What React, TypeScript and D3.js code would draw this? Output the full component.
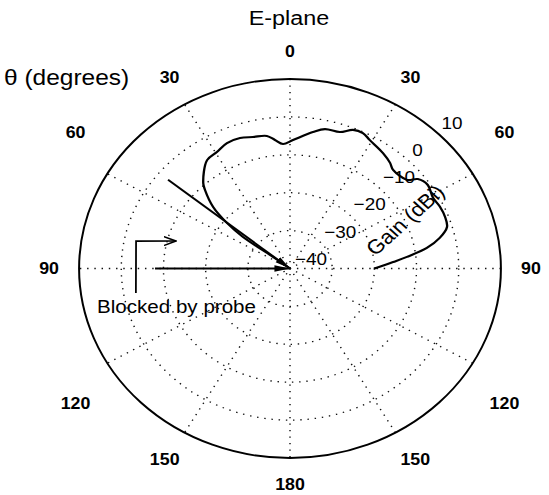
import React from 'react';
import * as d3 from 'd3';

// Pattern data: theta (deg, clockwise from broadside 0) and gain (dBi)
const thetaDeg = [90, 86, 83.7, 80.5, 77.2, 73.6, 69.7, 65.4, 61.2, 56, 52.1, 49.9, 43.2, 40.4, 35.9, 29.2, 25.8, 22.2, 18.2, 12.7, 8.6, 1.2, -2.9, -6, -8.9, -14.2, -19, -24.3, -29.4, -34.5, -42.4, -44.2, -48.3, -51.2, -53.3, -53, -53];
const gainDbi = [-20, -15.5, -12.1, -7.1, -3.6, -1.2, -0.8, -0.9, -1.3, -0.6, -1.6, -3.7, -4.3, -3.4, -2.4, -1.2, -0.3, -0.5, -2.1, -2.3, -3.6, -6.1, -7.1, -5.9, -4.6, -4.2, -3.6, -3.7, -4.7, -5.3, -9.5, -11.1, -15.6, -20.8, -26.1, -33.2, -40];

const gainTicks = [-40, -30, -20, -10, 0, 10];
const gainTickLabels = ['\u221240', '\u221230', '\u221220', '\u221210', '0', '10'];
const spokeAngles = [0, 30, 60, 90, 120, 150];
const angleTicks = [0, 30, 60, 90, 120, 150, 180, -30, -60, -90, -120, -150];

// annotation arrows pointing to the origin (tail theta / gain)
const arrowTailTheta = [-51, -90];
const arrowTailGain = [-2.8, -8];
// bent "Blocked by probe" arrow
const bentTheta = [-100, -78.8, -75];
const bentGain = [-2.9, -2.8, -12];

const W = 549;
const H = 495;
const SX = 1.113;
const CX = 290 / SX;
const CY = 268.5;
const R = 189.5;
const FONT = "'Liberation Sans', Arial, Helvetica, sans-serif";

const rad = (d: number) => (d * Math.PI) / 180;

export default function App() {
  const r = d3.scaleLinear().domain([-40, 10]).range([0, R]).clamp(true);
  const pt = (theta: number, gain: number): [number, number] => [
    r(gain) * Math.sin(rad(theta)),
    -r(gain) * Math.cos(rad(theta)),
  ];
  const pattern = thetaDeg.map((t, i) => ({ t, g: gainDbi[i] }));
  const radial = d3
    .lineRadial<{ t: number; g: number }>()
    .angle((d) => rad(d.t))
    .radius((d) => r(d.g))
    .curve(d3.curveCatmullRom.alpha(0.5));
  const straight = d3.line();

  const dotted = { stroke: '#111', strokeWidth: 1.3, strokeDasharray: '1.3 5.2', fill: 'none' };
  const labelR = 216.5;
  // vertical placement of theta labels (fraction of label radius)
  const labelV = d3.scaleLinear().domain([0, 30, 60, 90, 120, 150, 180]).range([1, 0.882, 0.625, 0, -0.625, -0.882, -1]);
  const labelH = d3.scaleLinear().domain([0, 30, 60, 90, 120, 150, 180]).range([0, 0.5, 0.89, 1, 0.89, 0.52, 0]);

  return (
    <svg width={W} height={H} style={{ position: 'absolute', left: 0, top: 0 }} fontFamily={FONT}>
      <defs>
        <marker id="tri" viewBox="0 0 14 8" refX="14" refY="4" markerWidth="14" markerHeight="8" markerUnits="userSpaceOnUse" orient="auto">
          <path d="M0,0.8 L14,4 L0,7.2 Z" fill="#000" />
        </marker>
        <marker id="chev" viewBox="0 0 12 10" refX="11" refY="5" markerWidth="12" markerHeight="10" markerUnits="userSpaceOnUse" orient="auto">
          <path d="M0,0.5 L11,5 L0,9.5" fill="none" stroke="#000" strokeWidth="1.5" />
        </marker>
      </defs>
      <rect width={W} height={H} fill="#fff" />
      <g transform={`scale(${SX},1)`}>
        <g transform={`translate(${CX},${CY})`}>
          {gainTicks.slice(1, -1).map((g) => (
            <circle key={g} r={r(g)} {...dotted} />
          ))}
          {spokeAngles.map((a) => {
            const p1 = pt(a, 10);
            const p2 = pt(a + 180, 10);
            return <line key={a} x1={p1[0]} y1={p1[1]} x2={p2[0]} y2={p2[1]} {...dotted} />;
          })}
          <circle r={r(10)} fill="none" stroke="#000" strokeWidth={1.8} />
          <path d={radial(pattern) || ''} fill="none" stroke="#000" strokeWidth={2.1} strokeLinejoin="round" />
          {arrowTailTheta.map((t, i) => (
            <path
              key={t}
              d={straight([pt(t, arrowTailGain[i]), pt(t, -40)]) || ''}
              stroke="#000"
              strokeWidth={1.8}
              fill="none"
              markerEnd="url(#tri)"
            />
          ))}
          <path
            d={straight(bentTheta.map((t, i) => pt(t, bentGain[i]))) || ''}
            stroke="#000"
            strokeWidth={1.6}
            fill="none"
            markerEnd="url(#chev)"
          />
          {gainTicks.map((g, i) => {
            const p = pt(44, g);
            return (
              <text key={g} x={p[0] + 4.5} y={p[1] - 3.5} fontSize={17} fill="#000">
                {gainTickLabels[i]}
              </text>
            );
          })}
          {angleTicks.map((a) => {
            const x = labelR * Math.sign(a) * labelH(Math.abs(a));
            const y = -labelR * labelV(Math.abs(a));
            return (
              <text key={a} x={x} y={y} fontSize={16} fontWeight="bold" textAnchor="middle" dominantBaseline="central" fill="#000">
                {Math.abs(a)}
              </text>
            );
          })}
          <text
            transform={`translate(${(405 / SX) - CX},${220 - CY}) rotate(-45)`}
            fontSize={20}
            textAnchor="middle"
            dominantBaseline="central"
            fill="#000"
          >
            Gain (dBi)
          </text>
        </g>
        <text x={289 / SX} y={25} fontSize={21} textAnchor="middle" fill="#000">
          E-plane
        </text>
        <text x={4 / SX} y={85} fontSize={22} fill="#000">
          θ (degrees)
        </text>
        <text x={97 / SX} y={313} fontSize={18.5} fill="#000">
          Blocked by probe
        </text>
      </g>
    </svg>
  );
}
